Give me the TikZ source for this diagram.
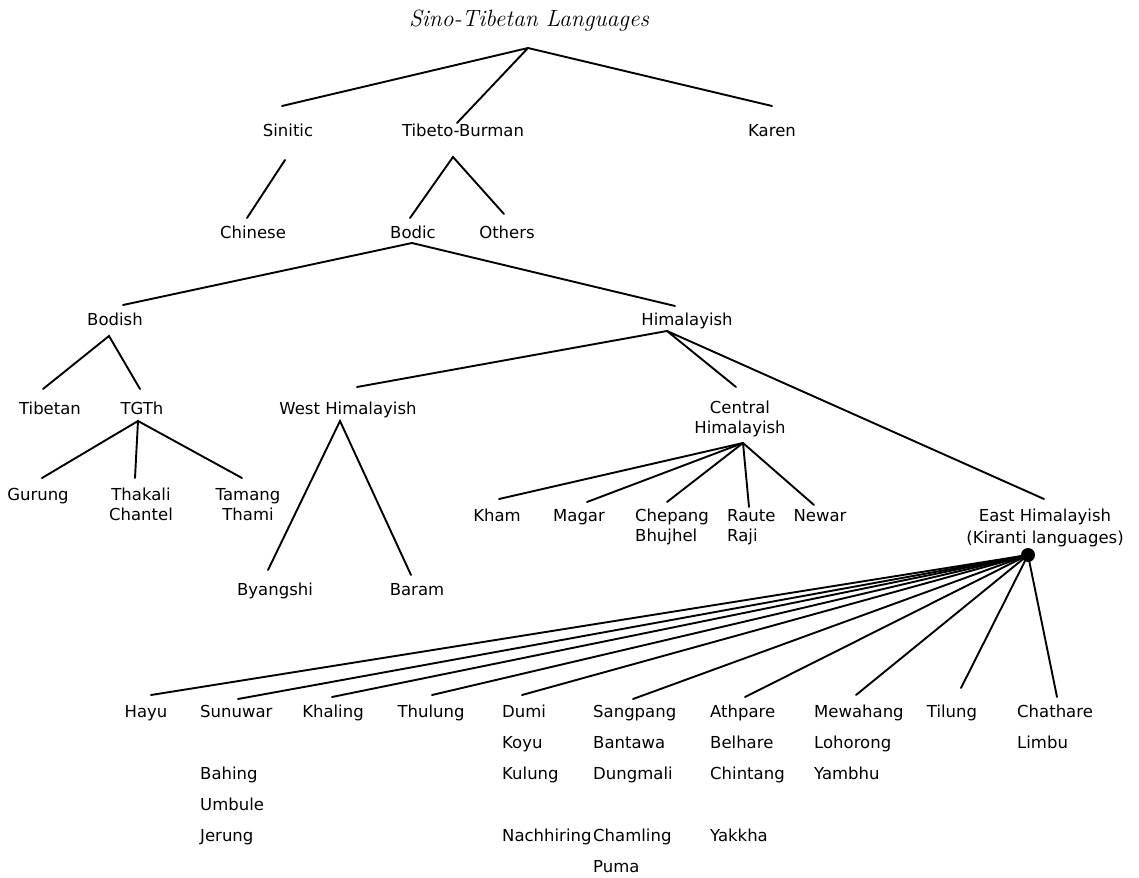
\documentclass[tikz,border=0pt]{standalone}
\usepackage{fontspec}
\newfontfamily\dejavu{DejaVu Sans}
\newcommand\lblfont{\dejavu\fontsize{16.5}{20}\selectfont}
\begin{document}
\begin{tikzpicture}[x=1pt,y=-1pt,
  lbl/.style={font=\lblfont,inner sep=0pt,anchor=base},
  lblw/.style={lbl,anchor=base west},
  ln/.style={line width=1.9pt,line cap=round}]
\useasboundingbox (0,0) rectangle (1139,877);
% title
\node[font=\itshape\fontsize{23.5}{28}\selectfont,inner sep=0pt,anchor=base] (title) at (529,27) {Sino-Tibetan Languages};
% labels (multi-line nodes are placed by the baseline of their last line)
\node[lbl] (sinitic) at (288,137) {Sinitic};
\node[lbl] (tb) at (463,137) {Tibeto-Burman};
\node[lbl] (karen) at (772,137) {Karen};
\node[lbl] (chinese) at (253,238) {Chinese};
\node[lbl] (bodic) at (413,238) {Bodic};
\node[lbl] (others) at (507,238) {Others};
\node[lbl] (bodish) at (115,325) {Bodish};
\node[lbl] (himalayish) at (687,325) {Himalayish};
\node[lbl] (tibetan) at (50,414) {Tibetan};
\node[lbl] (tgth) at (142,414) {TGTh};
\node[lbl] (westh) at (348,414) {West Himalayish};
\node[lbl,align=center] (central) at (740,433) {Central\\Himalayish};
\node[lbl] (gurung) at (38,500) {Gurung};
\node[lbl,align=center] (thakali) at (141,520) {Thakali\\Chantel};
\node[lbl,align=center] (tamang) at (248,520) {Tamang\\Thami};
\node[lbl] (kham) at (497,521) {Kham};
\node[lbl] (magar) at (579,521) {Magar};
\node[lblw,align=left] (chepang) at (635,541) {Chepang\\Bhujhel};
\node[lblw,align=left] (raute) at (727,541) {Raute\\Raji};
\node[lbl] (newar) at (820,521) {Newar};
\node[lbl,align=center] (east) at (1045,543) {East Himalayish\\[2pt](Kiranti languages)};
\node[lbl] (byangshi) at (275,595) {Byangshi};
\node[lbl] (baram) at (417,595) {Baram};
% Kiranti
\node[lbl] (hayu) at (146,717) {Hayu};
\node[lblw] (sunuwar) at (200,717) {Sunuwar};
\node[lblw] (bahing) at (200,779) {Bahing};
\node[lblw] (umbule) at (200,810) {Umbule};
\node[lblw] (jerung) at (200,841) {Jerung};
\node[lbl] (khaling) at (333,717) {Khaling};
\node[lbl] (thulung) at (431,717) {Thulung};
\node[lblw] (dumi) at (502,717) {Dumi};
\node[lblw] (koyu) at (502,748) {Koyu};
\node[lblw] (kulung) at (502,779) {Kulung};
\node[lblw] (nachhiring) at (502,841) {Nachhiring};
\node[lblw] (sangpang) at (593,717) {Sangpang};
\node[lblw] (bantawa) at (593,748) {Bantawa};
\node[lblw] (dungmali) at (593,779) {Dungmali};
\node[lblw] (chamling) at (593,841) {Chamling};
\node[lblw] (puma) at (593,872) {Puma};
\node[lblw] (athpare) at (710,717) {Athpare};
\node[lblw] (belhare) at (710,748) {Belhare};
\node[lblw] (chintang) at (710,779) {Chintang};
\node[lblw] (yakkha) at (710,841) {Yakkha};
\node[lblw] (mewahang) at (814,717) {Mewahang};
\node[lblw] (lohorong) at (814,748) {Lohorong};
\node[lblw] (yambhu) at (814,779) {Yambhu};
\node[lbl] (tilung) at (952,717) {Tilung};
\node[lblw] (chathare) at (1017,717) {Chathare};
\node[lblw] (limbu) at (1017,748) {Limbu};
% branch points
\coordinate (root-a) at (528,48);
\coordinate (sinitic-a) at (285,160);
\coordinate (tb-a) at (453,157);
\coordinate (bodic-a) at (412,243);
\coordinate (bodish-a) at (109,336);
\coordinate (tgth-a) at (138,421);
\coordinate (him-a) at (667,331);
\coordinate (westh-a) at (340,421);
\coordinate (central-a) at (743,443);
\node[circle,fill=black,inner sep=0pt,minimum size=14pt] (dot) at (1028,555) {};
% child ends
\coordinate (sinitic-t) at (282,106);
\coordinate (tb-t) at (457,123);
\coordinate (karen-t) at (772,106);
\coordinate (chinese-t) at (247,218);
\coordinate (bodic-t) at (410,218);
\coordinate (others-t) at (504,214);
\coordinate (bodish-t) at (123,305);
\coordinate (him-t) at (675,306);
\coordinate (tibetan-t) at (43,389);
\coordinate (tgth-t) at (140,389);
\coordinate (gurung-t) at (42,478);
\coordinate (thakali-t) at (135,478);
\coordinate (tamang-t) at (242,478);
\coordinate (westh-t) at (357,387);
\coordinate (central-t) at (736,387);
\coordinate (east-t) at (1044,499);
\coordinate (byangshi-t) at (268,570);
\coordinate (baram-t) at (411,575);
\coordinate (kham-t) at (499,499);
\coordinate (magar-t) at (587,502);
\coordinate (chepang-t) at (667,502);
\coordinate (raute-t) at (749,507);
\coordinate (newar-t) at (814,505);
\coordinate (hayu-t) at (151,695);
\coordinate (sunuwar-t) at (238,699);
\coordinate (khaling-t) at (332,697);
\coordinate (thulung-t) at (432,695);
\coordinate (dumi-t) at (522,695);
\coordinate (sangpang-t) at (633,699);
\coordinate (athpare-t) at (745,697);
\coordinate (mewahang-t) at (856,695);
\coordinate (tilung-t) at (961,688);
\coordinate (chathare-t) at (1057,697);
% connectors
\draw[ln] (sinitic-t) -- (root-a) -- (karen-t) (root-a) -- (tb-t);
\draw[ln] (sinitic-a) -- (chinese-t);
\draw[ln] (bodic-t) -- (tb-a) -- (others-t);
\draw[ln] (bodish-t) -- (bodic-a) -- (him-t);
\draw[ln] (tibetan-t) -- (bodish-a) -- (tgth-t);
\draw[ln] (gurung-t) -- (tgth-a) -- (tamang-t) (tgth-a) -- (thakali-t);
\draw[ln] (westh-t) -- (him-a) -- (east-t) (him-a) -- (central-t);
\draw[ln] (byangshi-t) -- (westh-a) -- (baram-t);
\foreach \c in {kham,magar,chepang,raute,newar}
  \draw[ln] (central-a) -- (\c-t);
\foreach \c in {hayu,sunuwar,khaling,thulung,dumi,sangpang,athpare,mewahang,tilung,chathare}
  \draw[ln] (dot.center) -- (\c-t);
\end{tikzpicture}
\end{document}
